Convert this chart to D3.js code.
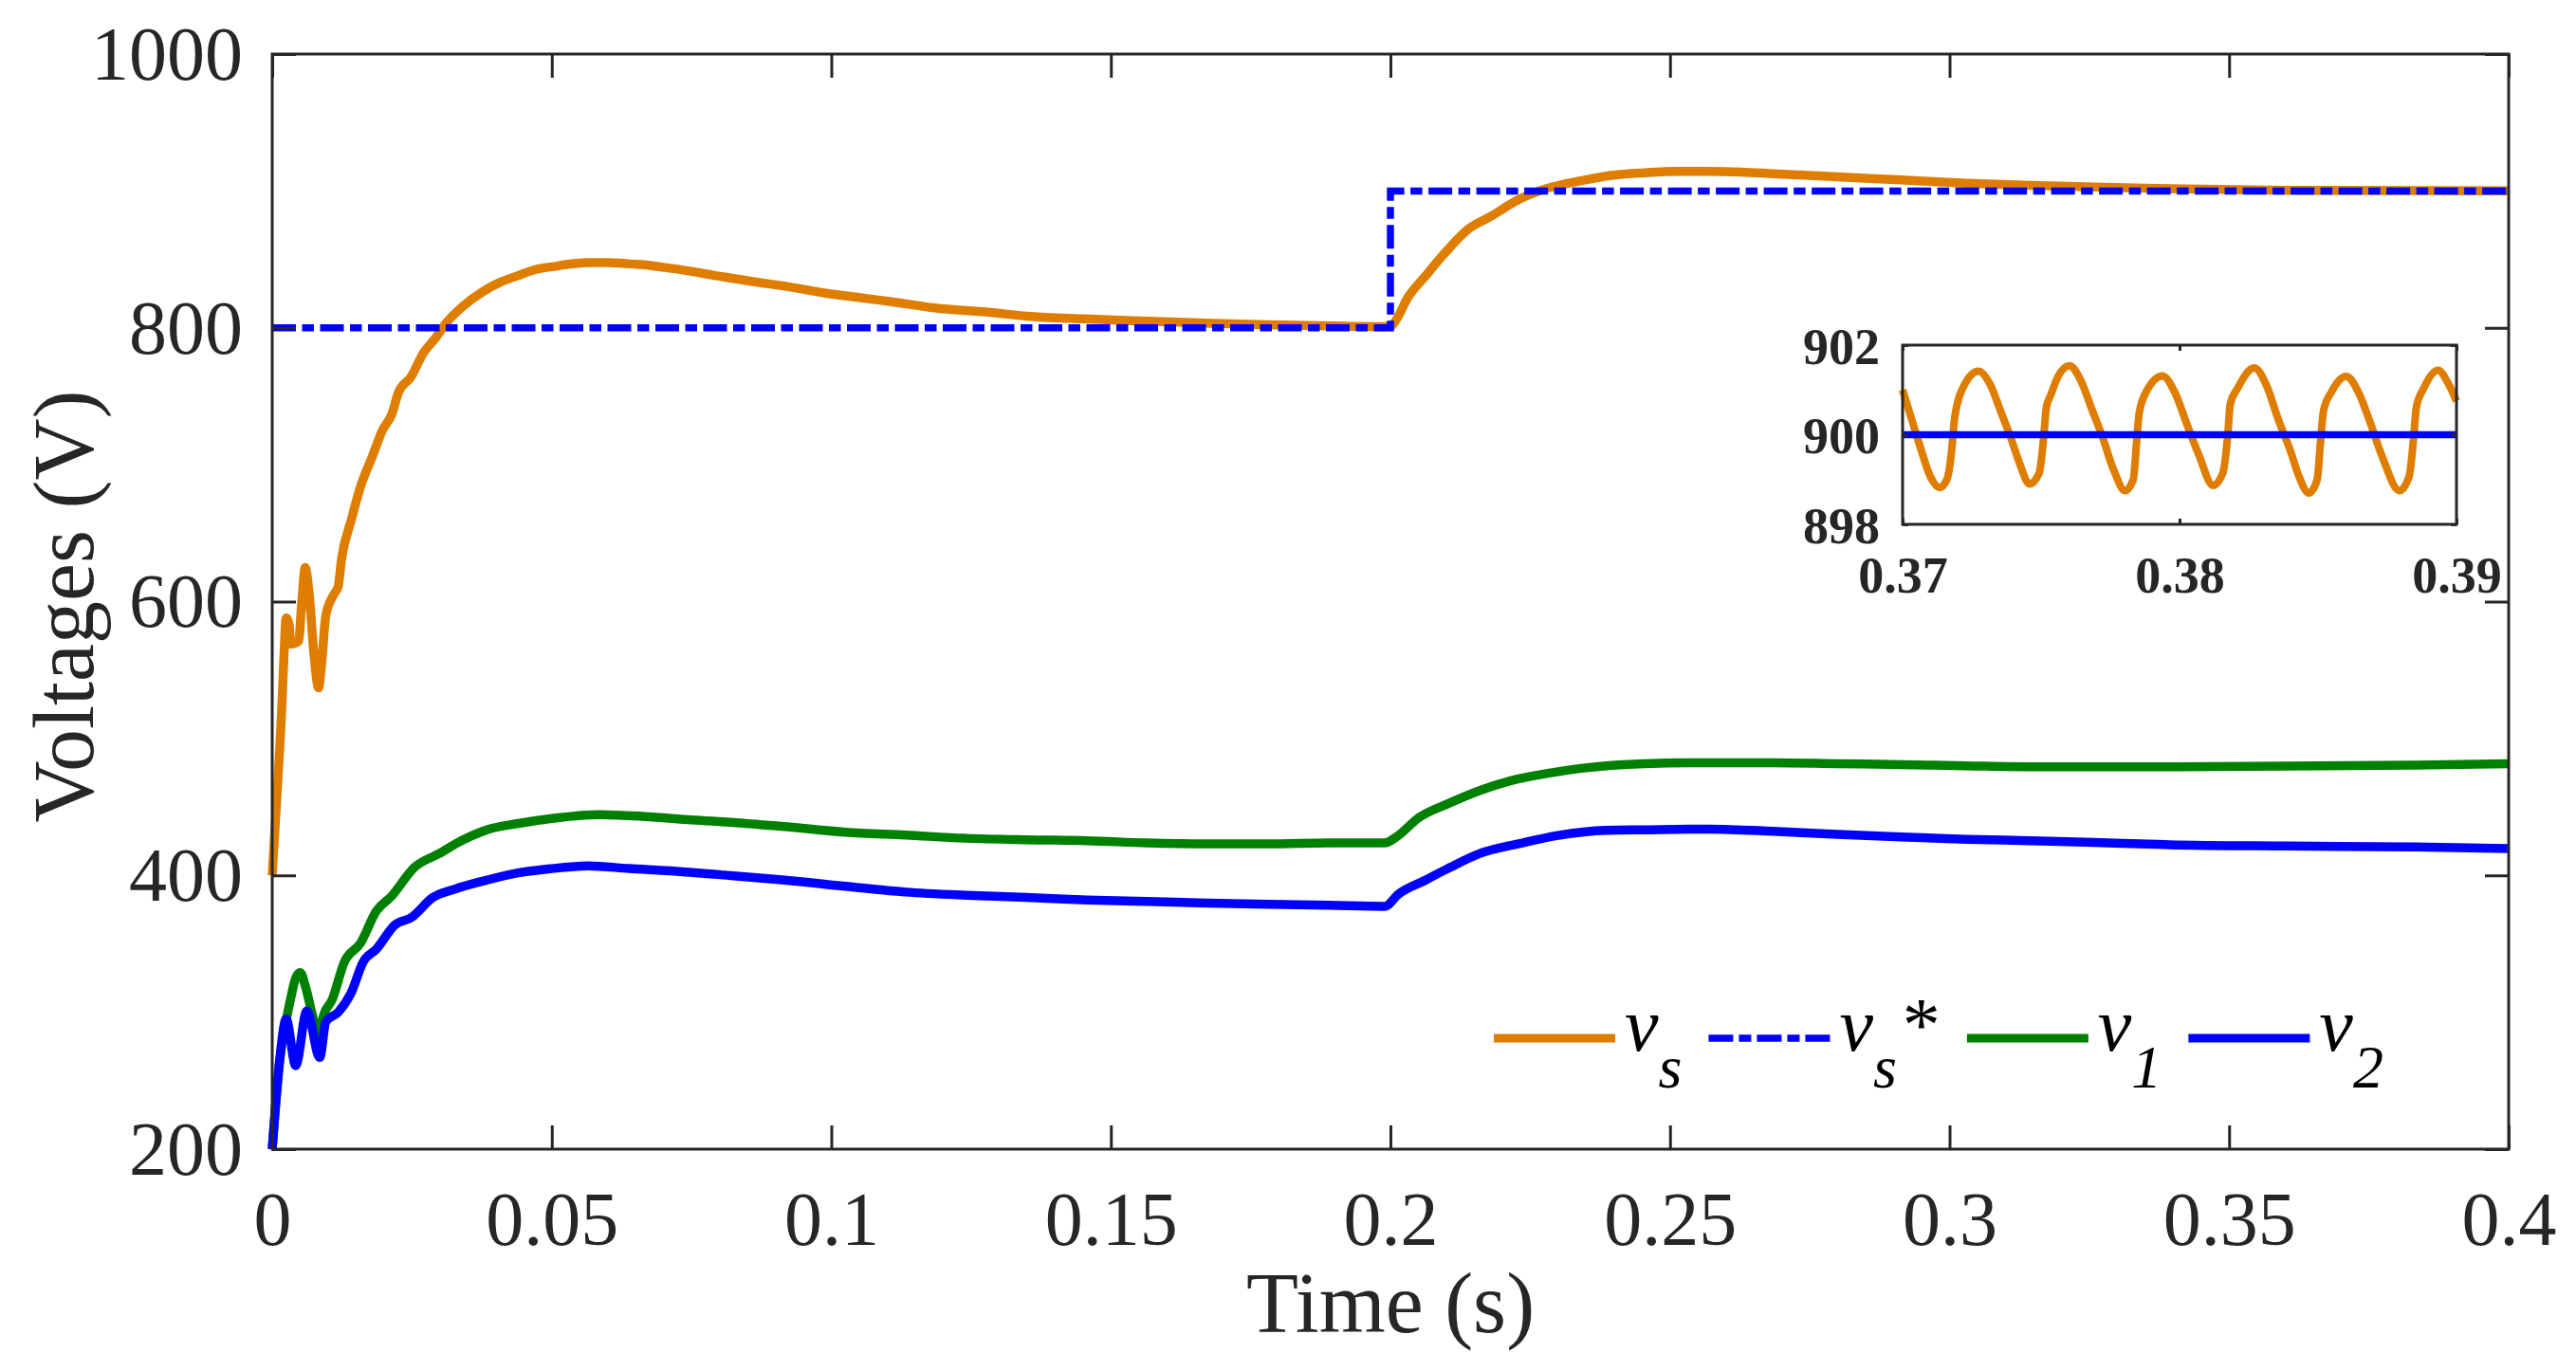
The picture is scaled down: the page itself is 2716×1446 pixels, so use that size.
<!DOCTYPE html>
<html>
<head>
<meta charset="utf-8">
<script src="https://cdn.jsdelivr.net/npm/d3@7"></script>
<style>
html,body{margin:0;padding:0;background:#fff;}
svg{display:block;}
</style>
</head>
<body>
<svg id="chart" width="2716" height="1446"></svg>
<script>
// ---------------- DATA ----------------
const xTicks = [0, 0.05, 0.1, 0.15, 0.2, 0.25, 0.3, 0.35, 0.4];
const xTickLabels = ["0", "0.05", "0.1", "0.15", "0.2", "0.25", "0.3", "0.35", "0.4"];
const yTicks = [200, 400, 600, 800, 1000];
const yTickLabels = ["200", "400", "600", "800", "1000"];

const insetXTicks = [0.37, 0.38, 0.39];
const insetXTickLabels = ["0.37", "0.38", "0.39"];
const insetYTicks = [898, 900, 902];
const insetYTickLabels = ["898", "900", "902"];

// v_s (time s, voltage V)
const vsPoints = [[0,400],[0.0008,455],[0.0017,521],[0.0021,560],[0.0025,588],[0.0030,584],[0.0033,569],[0.0047,571],[0.0053,600],[0.0059,625],[0.0066,606],[0.0075,560],[0.0083,537],[0.0088,553],[0.0096,590],[0.0110,605],[0.0118,611],[0.0124,631],[0.0141,659],[0.0158,684],[0.0180,707],[0.0197,725],[0.0214,737],[0.0226,753],[0.0248,764],[0.0271,782],[0.0293,793],[0.0310,803],[0.0339,815],[0.0373,825.5],[0.0406,833],[0.0439,838],[0.0471,842.6],[0.0504,844.8],[0.0536,846.7],[0.0568,847.6],[0.0600,847.6],[0.0633,847],[0.0666,846],[0.0698,844.3],[0.0730,842.5],[0.0795,838],[0.0860,833.8],[0.0925,829.9],[0.0990,825.3],[0.1055,821.8],[0.1120,818.4],[0.1185,814.5],[0.1280,811.5],[0.1350,808.5],[0.1450,806.5],[0.1565,804.8],[0.1680,803.3],[0.1780,802.3],[0.1900,801.3],[0.2000,800.8],[0.2009,805],[0.2031,822],[0.2063,838],[0.2096,854],[0.2139,872],[0.2182,882],[0.2226,893],[0.2284,902.3],[0.2341,907.4],[0.2398,911.5],[0.2455,913.3],[0.2513,914.3],[0.2570,914.3],[0.2627,913.8],[0.2684,912.6],[0.2799,910.3],[0.2914,908],[0.3030,905.7],[0.3143,904.1],[0.3258,902.8],[0.3372,901.8],[0.3603,900.5],[0.3832,900.2],[0.4000,900.1]];

// v_s* reference
const vsRefPoints = [[0,800],[0.2,800],[0.2,900],[0.4,900]];

// v_1
const v1Points = [[0,200],[0.0014,266],[0.0025,294],[0.0033,310],[0.0042,325],[0.0050,329],[0.0060,318],[0.0072,298],[0.0084,284],[0.0092,298],[0.0107,309],[0.0129,336.7],[0.0158,350.5],[0.0186,373.7],[0.0214,385],[0.0254,405.7],[0.0299,416],[0.0339,425.4],[0.0384,433.3],[0.0440,437.9],[0.0497,441.4],[0.0587,444.3],[0.0666,443],[0.0750,440.5],[0.0830,438.5],[0.0917,435.6],[0.1025,431.5],[0.1133,429.4],[0.1241,427.1],[0.1349,426],[0.1458,425.3],[0.1565,423.7],[0.1673,423],[0.1782,423],[0.1890,423.7],[0.1990,423.7],[0.2009,427.6],[0.2052,442.5],[0.2106,452.9],[0.2160,462],[0.2214,469],[0.2284,474.7],[0.2341,478.2],[0.2455,481.6],[0.2570,482.3],[0.2684,482.3],[0.2799,481.6],[0.2914,480.9],[0.3030,480],[0.3143,479.3],[0.3258,479.3],[0.3372,479.3],[0.3603,479.8],[0.3832,480.5],[0.4000,481.5]];

// v_2
const v2Points = [[0,200],[0.0014,268],[0.0025,295],[0.0042,261],[0.0062,301],[0.0085,267],[0.0096,293],[0.0118,300],[0.0141,314],[0.0163,337],[0.0186,346],[0.0220,364],[0.0248,369],[0.0288,384],[0.0327,390],[0.0373,395.4],[0.0429,401],[0.0497,404.8],[0.0565,406.9],[0.0638,405],[0.0723,403],[0.0830,399.5],[0.0917,396.5],[0.1025,392],[0.1133,387.8],[0.1241,385.5],[0.1349,383.9],[0.1458,382],[0.1565,380.9],[0.1673,379.8],[0.1782,378.9],[0.1890,378.2],[0.1990,377.4],[0.2014,386.2],[0.2063,396.6],[0.2106,405.7],[0.2160,416],[0.2236,423.7],[0.2300,429.2],[0.2387,432.9],[0.2455,433.3],[0.2570,433.8],[0.2684,432.2],[0.2799,429.9],[0.2914,428],[0.3030,426.4],[0.3143,425.3],[0.3258,424.1],[0.3372,422.6],[0.3603,421.4],[0.3832,420.7],[0.4000,419.5]];

// inset: zoom 0.37 - 0.39 s
const insetT = [0.37,0.3703,0.37065,0.371,0.37134,0.3716,0.37178,0.37187,0.37196,0.37222,0.37274,0.37318,0.37353,0.37388,0.37423,0.37458,0.37493,0.3751,0.37519,0.37536,0.37562,0.37603,0.37641,0.37685,0.3772,0.37763,0.37803,0.37833,0.37845,0.37854,0.3788,0.37938,0.37982,0.38025,0.38069,0.38121,0.38156,0.38174,0.38183,0.38209,0.3827,0.38314,0.38357,0.38401,0.38427,0.38467,0.38497,0.38509,0.3852,0.38549,0.38602,0.38645,0.38689,0.38733,0.38794,0.38829,0.38846,0.38855,0.38881,0.38934,0.38968,0.39];
const insetVs = [901.0,900.4,899.7,899.07,898.82,899.0,899.7,900.33,900.65,901.1,901.42,901.1,900.54,899.98,899.35,898.9,899.14,899.98,900.61,900.9,901.31,901.54,901.24,900.54,899.98,899.2,898.75,899.0,899.84,900.47,900.96,901.31,900.96,900.26,899.56,898.87,899.14,899.98,900.68,901.03,901.49,901.1,900.33,899.63,899.14,898.7,899.0,899.84,900.54,900.96,901.3,900.96,900.26,899.49,898.75,899.07,899.98,900.61,901.03,901.44,901.17,900.75];
const insetRefT = [0.37, 0.39];
const insetRefV = [900, 900];

const legendSubs = ["s", "s", "1", "2"];
const legendSups = ["", "*", "", ""];

// ---------------- STYLE / LAYOUT ----------------
const C_OR = "#DE7D00", C_BL = "#0000FF", C_GR = "#008000", C_AX = "#262626";
const FONT = "'Liberation Serif','Times New Roman',Times,serif";
const DASH = "25,6.5,12.5,6.5";

const svg = d3.select("#chart");
const P = {left: 287, right: 2645, top: 57, bottom: 1212};
const x = d3.scaleLinear().domain([0, 0.4]).range([P.left, P.right]);
const y = d3.scaleLinear().domain([200, 1000]).range([P.bottom, P.top]);

const line = d3.line().x(d => x(d[0])).y(d => y(d[1])).curve(d3.curveMonotoneX);
const lineLin = d3.line().x(d => x(d[0])).y(d => y(d[1]));

// series
const gS = svg.append("g").attr("fill", "none").attr("stroke-linejoin", "round");
gS.append("path").attr("d", line(vsPoints)).attr("stroke", C_OR).attr("stroke-width", 9.5);
gS.append("path").attr("d", lineLin(vsRefPoints)).attr("stroke", C_BL).attr("stroke-width", 7.5)
  .attr("stroke-dasharray", DASH).attr("stroke-linejoin", "miter");
gS.append("path").attr("d", line(v1Points)).attr("stroke", C_GR).attr("stroke-width", 9.5);
gS.append("path").attr("d", line(v2Points)).attr("stroke", C_BL).attr("stroke-width", 9.5);

// axes
function styleAxis(g) {
  g.select(".domain").remove();
  g.selectAll(".tick line").attr("stroke", C_AX).attr("stroke-width", 3);
  g.selectAll(".tick text").attr("fill", C_AX).attr("font-family", FONT);
}
const gx = svg.append("g").attr("transform", `translate(0,${P.bottom})`)
  .call(d3.axisBottom(x).tickValues(xTicks).tickFormat((d, i) => xTickLabels[i]).tickSize(-25).tickSizeOuter(0));
styleAxis(gx);
gx.selectAll(".tick text").attr("font-size", 80).attr("dy", null).attr("y", 101);

const gxt = svg.append("g").attr("transform", `translate(0,${P.top})`)
  .call(d3.axisTop(x).tickValues(xTicks).tickFormat("").tickSize(-25).tickSizeOuter(0));
styleAxis(gxt);

const gy = svg.append("g").attr("transform", `translate(${P.left},0)`)
  .call(d3.axisLeft(y).tickValues(yTicks).tickFormat((d, i) => yTickLabels[i]).tickSize(-25).tickPadding(31).tickSizeOuter(0));
styleAxis(gy);
gy.selectAll(".tick text").attr("font-size", 80).attr("dy", "0.33em");

const gyr = svg.append("g").attr("transform", `translate(${P.right},0)`)
  .call(d3.axisRight(y).tickValues(yTicks).tickFormat("").tickSize(-25).tickSizeOuter(0));
styleAxis(gyr);

svg.append("rect").attr("x", P.left).attr("y", P.top)
  .attr("width", P.right - P.left).attr("height", P.bottom - P.top)
  .attr("fill", "none").attr("stroke", C_AX).attr("stroke-width", 3);

// axis titles
svg.append("text").attr("x", (P.left + P.right) / 2).attr("y", 1405)
  .attr("text-anchor", "middle").attr("font-family", FONT).attr("font-size", 90).attr("fill", C_AX)
  .text("Time (s)");
svg.append("text").attr("transform", `translate(98,${(P.top + P.bottom) / 2 + 5}) rotate(-90)`)
  .attr("text-anchor", "middle").attr("font-family", FONT).attr("font-size", 90).attr("fill", C_AX)
  .text("Voltages (V)");

// legend
const legendColors = [C_OR, C_BL, C_GR, C_BL];
const legendDash = [null, "26,6,13,6", null, null];
const gL = svg.append("g");
let lx = 1575;
const ly = 1095, lBase = 1108;
legendSubs.forEach((sub, i) => {
  const ln = gL.append("line").attr("x1", lx).attr("x2", lx + 128).attr("y1", ly).attr("y2", ly)
    .attr("stroke", legendColors[i]).attr("stroke-width", i === 1 ? 7.5 : 9);
  if (legendDash[i]) ln.attr("stroke-dasharray", legendDash[i]);
  const t = gL.append("text").attr("x", lx + 138).attr("y", lBase)
    .attr("font-family", FONT).attr("font-size", 80).attr("fill", "#000");
  t.append("tspan").attr("font-style", "italic").text("v");
  t.append("tspan").attr("font-style", "italic").attr("font-size", 64).attr("dy", 39).text(sub);
  let extra = 0;
  if (legendSups[i]) {
    t.append("tspan").attr("dy", -39).attr("dx", 6).text(legendSups[i]);
    extra = 6;
  }
  lx = lx + 138 + t.node().getComputedTextLength() + extra + 28;
});

// inset
const I = {left: 2006, right: 2590, top: 364, bottom: 553};
const xi = d3.scaleLinear().domain([0.37, 0.39]).range([I.left, I.right]);
const yi = d3.scaleLinear().domain([898, 902]).range([I.bottom, I.top]);
const gI = svg.append("g");
gI.append("rect").attr("x", I.left).attr("y", I.top).attr("width", I.right - I.left)
  .attr("height", I.bottom - I.top).attr("fill", "#fff");
const lineI = d3.line().x(d => xi(d[0])).y(d => yi(d[1])).curve(d3.curveMonotoneX);
gI.append("path").attr("d", lineI(insetT.map((t, i) => [t, insetVs[i]])))
  .attr("fill", "none").attr("stroke", C_OR).attr("stroke-width", 8).attr("stroke-linejoin", "round");
gI.append("path").attr("d", lineI(insetRefT.map((t, i) => [t, insetRefV[i]])))
  .attr("fill", "none").attr("stroke", C_BL).attr("stroke-width", 7.5);

function styleInset(g) {
  g.select(".domain").remove();
  g.selectAll(".tick line").attr("stroke", C_AX).attr("stroke-width", 3);
  g.selectAll(".tick text").attr("fill", C_AX).attr("font-family", FONT)
    .attr("font-weight", "bold").attr("font-size", 54);
}
const gix = gI.append("g").attr("transform", `translate(0,${I.bottom})`)
  .call(d3.axisBottom(xi).tickValues(insetXTicks).tickFormat((d, i) => insetXTickLabels[i]).tickSize(-6).tickSizeOuter(0));
styleInset(gix);
gix.selectAll(".tick text").attr("dy", null).attr("y", 72);
const gixt = gI.append("g").attr("transform", `translate(0,${I.top})`)
  .call(d3.axisTop(xi).tickValues(insetXTicks).tickFormat("").tickSize(-6).tickSizeOuter(0));
styleInset(gixt);
const giy = gI.append("g").attr("transform", `translate(${I.left},0)`)
  .call(d3.axisLeft(yi).tickValues(insetYTicks).tickFormat((d, i) => insetYTickLabels[i]).tickSize(-6).tickPadding(24).tickSizeOuter(0));
styleInset(giy);
giy.selectAll(".tick text").attr("dy", "0.36em");
const giyr = gI.append("g").attr("transform", `translate(${I.right},0)`)
  .call(d3.axisRight(yi).tickValues(insetYTicks).tickFormat("").tickSize(-6).tickSizeOuter(0));
styleInset(giyr);
gI.append("rect").attr("x", I.left).attr("y", I.top).attr("width", I.right - I.left)
  .attr("height", I.bottom - I.top).attr("fill", "none").attr("stroke", C_AX).attr("stroke-width", 3);
</script>
</body>
</html>
